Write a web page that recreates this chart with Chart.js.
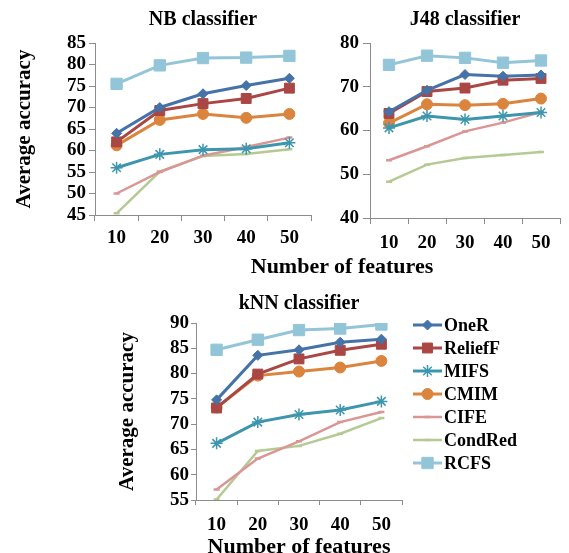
<!DOCTYPE html>
<html>
<head>
<meta charset="utf-8">
<script src="https://cdn.jsdelivr.net/npm/chart.js@4.4.0/dist/chart.umd.min.js"></script>
<style>
html, body { margin: 0; padding: 0; background: #fff; overflow: hidden; }
body { width: 569px; height: 553px; position: relative; }
canvas { position: absolute; }
#featTop {
    position: absolute; left: 212px; top: 253px; width: 260px;
    text-align: center; line-height: 28px; color: #000;
    font: bold 22px "Liberation Serif", "Times New Roman", serif;
}
</style>
</head>
<body>
<canvas id="nbChart" width="320" height="255" style="left:0;top:0"></canvas>
<canvas id="j48Chart" width="269" height="255" style="left:300px;top:0"></canvas>
<canvas id="knnChart" width="440" height="281" style="left:100px;top:280px"></canvas>
<div id="featTop">Number of features</div>
<script>
/* DATA */
const features = ['10', '20', '30', '40', '50'];
const methods = ['OneR', 'ReliefF', 'MIFS', 'CMIM', 'CIFE', 'CondRed', 'RCFS'];

// rows follow the order of methods
const nbAcc = [
    [64.0, 70.0, 73.2, 75.1, 76.8],
    [62.0, 69.3, 70.9, 72.1, 74.5],
    [56.0, 59.1, 60.2, 60.4, 61.8],
    [61.2, 67.1, 68.5, 67.6, 68.5],
    [50.0, 55.0, 58.8, 60.8, 63.0],
    [45.4, 55.1, 58.7, 59.2, 60.3],
    [75.5, 79.8, 81.5, 81.6, 82.0]
];
const j48Acc = [
    [64.3, 69.2, 72.8, 72.4, 72.7],
    [63.9, 68.9, 69.7, 71.5, 71.9],
    [60.6, 63.3, 62.5, 63.3, 64.1],
    [61.7, 66.0, 65.8, 66.1, 67.3],
    [53.2, 56.4, 59.8, 61.8, 64.2],
    [48.3, 52.2, 53.7, 54.4, 55.1],
    [75.0, 77.1, 76.6, 75.5, 76.0]
];
const knnAcc = [
    [74.8, 83.6, 84.7, 86.2, 86.8],
    [73.2, 79.9, 82.9, 84.6, 85.8],
    [66.2, 70.4, 71.9, 72.8, 74.5],
    [73.3, 79.6, 80.4, 81.2, 82.5],
    [57.1, 63.2, 66.6, 70.4, 72.4],
    [55.1, 64.7, 65.7, 68.1, 71.2],
    [84.7, 86.7, 88.6, 88.9, 89.7]
];

const nbYTicks = [45, 50, 55, 60, 65, 70, 75, 80, 85];
const j48YTicks = [40, 50, 60, 70, 80];
const knnYTicks = [55, 60, 65, 70, 75, 80, 85, 90];

/* STYLE */
const serif = "'Liberation Serif', 'Times New Roman', serif";
const lineColors = ['#4572A7', '#AA4643', '#3D96AE', '#DB843D', '#D99694', '#B5CA92', '#93C5D8'];
const markers = ['rectRot', 'rect', 'star', 'circle', 'line', 'line', 'rect'];
const markerSize = [5, 7, 6, 5.5, 3, 3, 8];
const axisGray = '#8c8c8c';

function buildDatasets(values) {
    return values.map(function(row, i) {
        return {
            label: methods[i],
            data: row,
            borderColor: lineColors[i],
            backgroundColor: lineColors[i],
            borderWidth: i >= 4 && i <= 5 ? 2.5 : 3,
            pointStyle: markers[i],
            pointRadius: markerSize[i],
            pointBackgroundColor: lineColors[i],
            pointBorderColor: lineColors[i],
            pointBorderWidth: markers[i] === 'star' ? 1.5 : (markers[i] === 'line' ? 2.5 : 1),
            tension: 0
        };
    });
}

/* legend with line + marker, drawn on the kNN canvas */
const lineLegend = {
    id: 'lineLegend',
    afterDraw: function(chart, args, o) {
        if (!o.show) return;
        const ctx = chart.ctx;
        chart.data.datasets.forEach(function(ds, i) {
            const y = o.top + i * o.gap;
            ctx.save();
            ctx.strokeStyle = ds.borderColor;
            ctx.lineWidth = ds.borderWidth;
            ctx.beginPath();
            ctx.moveTo(o.left, y);
            ctx.lineTo(o.left + o.width, y);
            ctx.stroke();
            ctx.fillStyle = ds.pointBackgroundColor;
            ctx.strokeStyle = ds.pointBorderColor;
            ctx.lineWidth = ds.pointBorderWidth;
            Chart.helpers.drawPoint(ctx, {
                pointStyle: ds.pointStyle,
                radius: ds.pointRadius,
                rotation: 0,
                borderWidth: ds.pointBorderWidth
            }, o.left + o.width / 2, y);
            ctx.fillStyle = '#000';
            ctx.font = 'bold 18px ' + serif;
            ctx.textBaseline = 'middle';
            ctx.textAlign = 'left';
            ctx.fillText(ds.label, o.left + o.width + 2, y + 1);
            ctx.restore();
        });
    }
};

function makeChart(id, values, yTicks, cfg) {
    const ctx = document.getElementById(id).getContext('2d');
    return new Chart(ctx, {
        type: 'line',
        data: { labels: features, datasets: buildDatasets(values) },
        plugins: [lineLegend],
        options: {
            responsive: false,
            animation: false,
            layout: { padding: cfg.padding },
            plugins: {
                legend: { display: false },
                tooltip: { enabled: false },
                title: {
                    display: true,
                    text: cfg.title,
                    fullSize: false,
                    color: '#000',
                    font: { family: serif, size: 20, weight: 'bold' },
                    padding: { top: 0, bottom: cfg.titleGap }
                },
                lineLegend: cfg.legend || { show: false }
            },
            scales: {
                x: {
                    offset: true,
                    grid: { offset: true, drawOnChartArea: false, color: axisGray, tickLength: cfg.xTick },
                    border: { color: axisGray, width: 1 },
                    ticks: {
                        color: '#000', padding: cfg.xPad, maxRotation: 0, autoSkip: false,
                        font: { family: serif, size: 19, weight: 'bold' }
                    },
                    title: cfg.xTitle ? {
                        display: true, text: 'Number of features', color: '#000',
                        font: { family: serif, size: 22, weight: 'bold' },
                        padding: { top: 0, bottom: 0 }
                    } : { display: false },
                    afterFit: function(scale) { scale.height = cfg.xHeight; }
                },
                y: {
                    min: yTicks[0],
                    max: yTicks[yTicks.length - 1],
                    grid: { drawOnChartArea: false, color: axisGray, tickLength: cfg.yTick },
                    border: { color: axisGray, width: 1 },
                    ticks: {
                        stepSize: yTicks[1] - yTicks[0],
                        autoSkip: false,
                        color: '#000', padding: cfg.yPad,
                        font: { family: serif, size: 19, weight: 'bold' }
                    },
                    title: cfg.yTitle ? {
                        display: true, text: 'Average accuracy', color: '#000',
                        font: { family: serif, size: 21, weight: 'bold' },
                        padding: { top: 0, bottom: 0 }
                    } : { display: false },
                    afterFit: function(scale) { scale.width = cfg.yWidth; }
                }
            }
        }
    });
}

makeChart('nbChart', nbAcc, nbYTicks, {
    title: 'NB classifier',
    padding: { left: 12, right: 3, top: 8, bottom: 0 },
    titleGap: 11,
    yWidth: 83, yTick: 6, yPad: 3, yTitle: true,
    xHeight: 40, xTick: 6, xPad: 6, xTitle: false
});

makeChart('j48Chart', j48Acc, j48YTicks, {
    title: 'J48 classifier',
    padding: { left: 0, right: 0, top: 8, bottom: 0 },
    titleGap: 11,
    yWidth: 70, yTick: 7, yPad: 4, yTitle: false,
    xHeight: 37, xTick: 6, xPad: 8, xTitle: false
});

makeChart('knnChart', knnAcc, knnYTicks, {
    title: 'kNN classifier',
    padding: { left: 15, right: 138, top: 12, bottom: 0 },
    titleGap: 7,
    yWidth: 81, yTick: 5, yPad: 2, yTitle: true,
    xHeight: 61, xTick: 5, xPad: 9, xTitle: true,
    legend: { show: true, left: 313, width: 29, top: 45, gap: 23 }
});
</script>
</body>
</html>
